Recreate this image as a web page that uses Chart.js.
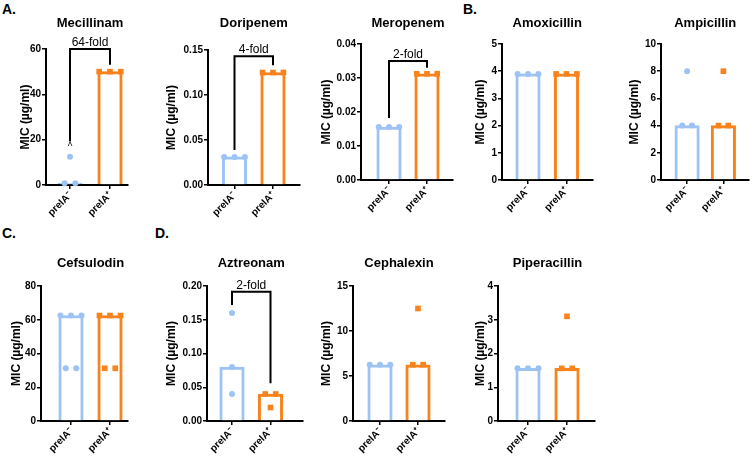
<!DOCTYPE html>
<html>
<head>
<meta charset="utf-8">
<script src="https://cdn.jsdelivr.net/npm/chart.js@4"></script>
<style>
  body { margin: 0; width: 753px; height: 457px; overflow: hidden; position: relative; background: #fff;
         font-family: "Liberation Sans", Arial, sans-serif; }
  canvas { position: absolute; left: 0; top: 0; }
  .tag { position: absolute; font-weight: bold; font-size: 14px; line-height: 16px; color: #000; }
</style>
</head>
<body>
<div class="tag" style="left:2px;top:1px">A.</div>
<div class="tag" style="left:463px;top:1px">B.</div>
<div class="tag" style="left:2px;top:225px">C.</div>
<div class="tag" style="left:155px;top:225px">D.</div>
<script>
// data
const drugs = ['Mecillinam', 'Doripenem', 'Meropenem', 'Amoxicillin', 'Ampicillin',
               'Cefsulodin', 'Aztreonam', 'Cephalexin', 'Piperacillin'];
const groups = ['prelA⁻', 'prelA⁺'];

const blueMIC = [
    [0.78, 0.78, 12.5],
    [0.03125, 0.03125, 0.03125],
    [0.0156, 0.0156, 0.0156],
    [3.9, 3.9, 3.9],
    [4, 8, 4],
    [62.5, 62.5, 62.5, 31.25, 31.25],
    [0.16, 0.08, 0.04],
    [6.25, 6.25, 6.25],
    [1.56, 1.56, 1.56]
];
const orangeMIC = [
    [50, 50, 50],
    [0.125, 0.125, 0.125],
    [0.03125, 0.03125, 0.03125],
    [3.9, 3.9, 3.9],
    [4, 8, 4],
    [62.5, 62.5, 62.5, 31.25, 31.25],
    [0.04, 0.02, 0.04],
    [6.25, 12.5, 6.25],
    [1.56, 3.1, 1.56]
];
const blueBar = [0.78, 0.03125, 0.0156, 3.9, 4, 62.5, 0.08, 6.25, 1.56];
const orangeBar = [50, 0.125, 0.03125, 3.9, 4, 62.5, 0.04, 6.25, 1.56];

const yMax = [60, 0.15, 0.04, 5, 10, 80, 0.2, 15, 4];
const yStep = [20, 0.05, 0.01, 1, 2, 20, 0.05, 5, 1];
const yDigits = [0, 2, 2, 0, 0, 0, 2, 0, 0];

const foldLabel = ['64-fold', '4-fold', '2-fold', null, null, null, '2-fold', null, null];
const bracketLeft = [19.2, 0.039, 0.0182, null, null, null, 0.172, null, null];
const bracketTop = [60, 0.143, 0.035, null, null, null, 0.1916, null, null];
const bracketRight = [53, 0.133, 0.033, null, null, null, 0.0558, null, null];
const caretAt = [12.5, null, null, null, null, null, null, null, null];

// page layout of each panel (pixels)
const boxes = [
    { left: 46, right: 128, top: 49, bottom: 185, c0: 70, c1: 110, labX: 25.5, titleY: 23 },
    { left: 208, right: 300, top: 50, bottom: 185, c0: 234.5, c1: 273, labX: 172, titleY: 23 },
    { left: 361, right: 453, top: 44, bottom: 180, c0: 389, c1: 427, labX: 327, titleY: 23 },
    { left: 502, right: 593, top: 44, bottom: 180, c0: 528, c1: 566.5, labX: 481, titleY: 23 },
    { left: 661, right: 752, top: 44, bottom: 180, c0: 688, c1: 725.5, labX: 635, titleY: 23 },
    { left: 41, right: 128, top: 286, bottom: 421, c0: 71, c1: 110, labX: 17, titleY: 263 },
    { left: 207, right: 303, top: 286, bottom: 421, c0: 232, c1: 270.5, labX: 172, titleY: 263 },
    { left: 353, right: 445, top: 286, bottom: 421, c0: 380, c1: 418, labX: 327, titleY: 263 },
    { left: 498, right: 595, top: 286, bottom: 421, c0: 528, c1: 567, labX: 481, titleY: 263 }
];

const BLUE = '#9dc3f5';
const ORANGE = '#f8821c';
const FONT = '"Liberation Sans", Arial, sans-serif';
const CW = 753, CH = 490;
Chart.defaults.font.family = FONT;
Chart.defaults.color = '#000';

// spread equal values sideways, like the replicate dots in the figure
function spread(values) {
    return values.map((v, k) => {
        const same = [];
        values.forEach((w, j) => { if (w === v) same.push(j); });
        return (same.indexOf(k) - (same.length - 1) / 2) * 0.27;
    });
}

const panelText = {
    id: 'panelText',
    afterDatasetsDraw(chart, args, o) {
        const { ctx } = chart;
        const x = chart.scales.x, y = chart.scales.y;
        ctx.save();
        ctx.fillStyle = '#000';
        ctx.textAlign = 'center';
        ctx.textBaseline = 'middle';
        ctx.font = 'bold 13px ' + FONT;
        ctx.fillText(o.title, x.getPixelForValue(0.5), o.titleY);
        if (o.fold) {
            ctx.font = '12px ' + FONT;
            ctx.textBaseline = 'alphabetic';
            ctx.fillText(o.fold, x.getPixelForValue(0.5), y.getPixelForValue(o.foldAt) - 3);
        }
        if (o.caret != null) {
            ctx.font = '10px ' + FONT;
            ctx.textBaseline = 'middle';
            ctx.fillText('^', x.getPixelForValue(0), y.getPixelForValue(o.caret) - 9);
        }
        ctx.restore();
    }
};

function makeChart(i) {
    const b = boxes[i];
    const canvas = document.createElement('canvas');
    canvas.width = CW;
    canvas.height = CH;
    document.body.appendChild(canvas);

    const gap = b.c1 - b.c0;
    const xMin = -(b.c0 - b.left) / gap;
    const xMax = 1 + (b.right - b.c1) / gap;
    const yW = b.left - b.labX + 7.2;
    const xH = 45;

    const bOff = spread(blueMIC[i]);
    const oOff = spread(orangeMIC[i]);

    const datasets = [
        {
            type: 'scatter',
            data: blueMIC[i].map((v, k) => ({ x: 0 + bOff[k], y: v })),
            pointStyle: 'circle', pointRadius: 3, pointBorderWidth: 0,
            pointBackgroundColor: BLUE, backgroundColor: BLUE, clip: false
        },
        {
            type: 'scatter',
            data: orangeMIC[i].map((v, k) => ({ x: 1 + oOff[k], y: v })),
            pointStyle: 'rect', pointRadius: 4, pointBorderWidth: 0,
            pointBackgroundColor: ORANGE, backgroundColor: ORANGE, clip: false
        },
        {
            type: 'bar',
            data: [{ x: 0, y: blueBar[i] }, { x: 1, y: orangeBar[i] }],
            backgroundColor: '#fff',
            borderColor: [BLUE, ORANGE],
            borderWidth: 3,
            barThickness: 24.5,
            clip: false
        }
    ];
    if (foldLabel[i]) {
        datasets.push({
            type: 'line',
            data: [
                { x: 0, y: bracketLeft[i] },
                { x: 0, y: bracketTop[i] },
                { x: 1, y: bracketTop[i] },
                { x: 1, y: bracketRight[i] }
            ],
            borderColor: '#000', borderWidth: 2, pointRadius: 0, fill: false,
            tension: 0, clip: false
        });
    }

    new Chart(canvas, {
        type: 'bar',
        data: { datasets: datasets },
        plugins: [panelText],
        options: {
            responsive: false,
            animation: false,
            events: [],
            layout: {
                padding: {
                    left: b.left - yW,
                    right: CW - b.right,
                    top: b.top,
                    bottom: CH - b.bottom - xH
                }
            },
            plugins: {
                legend: { display: false },
                tooltip: { enabled: false },
                panelText: {
                    title: drugs[i],
                    titleY: b.titleY,
                    fold: foldLabel[i],
                    foldAt: bracketTop[i],
                    caret: caretAt[i]
                }
            },
            scales: {
                x: {
                    type: 'linear',
                    min: xMin,
                    max: xMax,
                    offset: false,
                    afterBuildTicks: s => { s.ticks = [{ value: 0 }, { value: 1 }]; },
                    afterFit: s => {
                        s.height = xH;
                        s.paddingLeft = 0; s.paddingRight = 0;
                        s.paddingTop = 0; s.paddingBottom = 0;
                    },
                    grid: { display: true, offset: false, drawOnChartArea: false, drawTicks: true,
                            tickLength: 4, color: '#000', lineWidth: 1.5 },
                    border: { display: true, color: '#000', width: 2 },
                    ticks: {
                        autoSkip: false, minRotation: 45, maxRotation: 45, padding: 1,
                        color: '#000', font: { size: 10, weight: 'bold' },
                        callback: v => groups[v]
                    }
                },
                y: {
                    min: 0,
                    max: yMax[i],
                    afterFit: s => {
                        s.width = yW;
                        s.paddingTop = 0; s.paddingBottom = 0;
                        s.paddingLeft = 0; s.paddingRight = 0;
                    },
                    grid: { display: true, drawOnChartArea: false, drawTicks: true,
                            tickLength: 4, color: '#000', lineWidth: 1.5 },
                    border: { display: true, color: '#000', width: 2 },
                    ticks: {
                        stepSize: yStep[i], padding: 1, color: '#000',
                        font: { size: 10, weight: 'bold' },
                        callback: v => Number(v).toFixed(yDigits[i])
                    },
                    title: {
                        display: true, text: 'MIC (µg/ml)', color: '#000', padding: 0,
                        font: { size: 12, weight: 'bold' }
                    }
                }
            }
        }
    });
}

drugs.forEach((d, i) => makeChart(i));
</script>
</body>
</html>
